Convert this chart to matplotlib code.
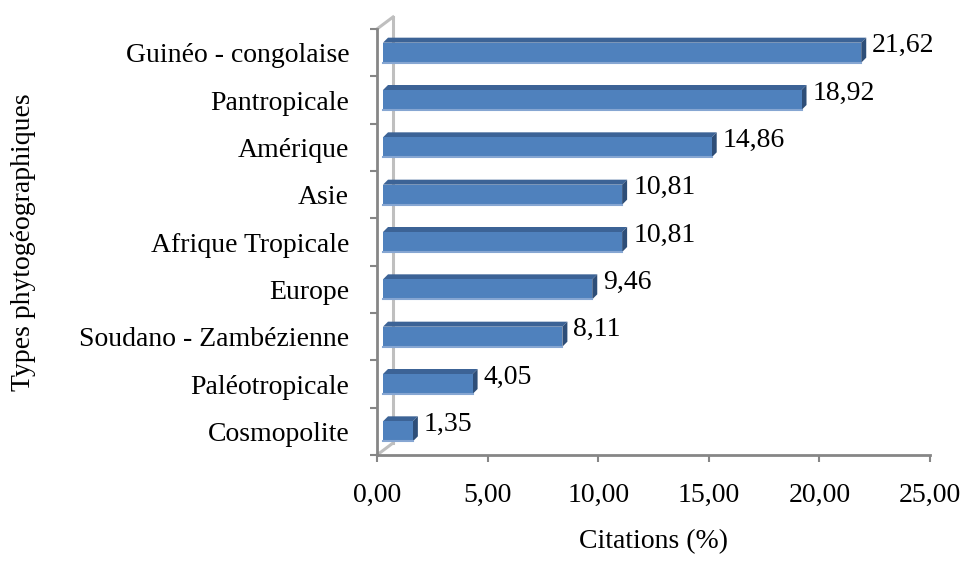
import matplotlib
matplotlib.use('Agg')
import matplotlib.pyplot as plt
from matplotlib.patches import Polygon, Rectangle

plt.rcParams['font.family'] = ['Liberation Serif', 'DejaVu Serif']

categories = ['Cosmopolite', 'Paléotropicale', 'Soudano - Zambézienne', 'Europe',
              'Afrique Tropicale', 'Asie', 'Amérique', 'Pantropicale',
              'Guinéo - congolaise']
values = [1.35, 4.05, 8.11, 9.46, 10.81, 10.81, 14.86, 18.92, 21.62]
value_labels = ['1,35', '4,05', '8,11', '9,46', '10,81', '10,81', '14,86', '18,92', '21,62']
xticks = [0, 5, 10, 15, 20, 25]
xtick_labels = ['0,00', '5,00', '10,00', '15,00', '20,00', '25,00']

FS = 20
W, H = 964, 568
fig = plt.figure(figsize=(W / 100, H / 100), dpi=100)
left, right, top, bottom = 377, 930, 29, 455
ax = fig.add_axes([left / W, 1 - bottom / H, (right - left) / W, (bottom - top) / H])
ax.set_xlim(0, 25)
ax.set_ylim(-0.5, 8.5)

# pixel -> data units
px_x = 25 / (right - left)
px_y = 9 / (bottom - top)

front = '#4F81BD'
top_c = '#3C6396'
side_c = '#2E4E78'
edge_c = '#86A6D2'

# back wall / floor edges (3D look)
depth_x, depth_y = 16 * px_x, 12 * px_y
wall = '#BFBFBF'
ax.plot([depth_x, depth_x], [-0.5 + depth_y, 8.5 + depth_y], color=wall, lw=2.2,
        clip_on=False, zorder=1)
ax.plot([0, depth_x], [8.5, 8.5 + depth_y], color=wall, lw=2.2, clip_on=False, zorder=1)
ax.plot([0, depth_x], [-0.5, -0.5 + depth_y], color=wall, lw=2.2, clip_on=False, zorder=1)

bh = 20 * px_y
sx = 6 * px_x
ox, oy = 5 * px_x, 5 * px_y
for i, v in enumerate(values):
    x0, x1 = sx, v + sx
    y0, y1 = i - bh / 2, i + bh / 2
    ax.add_patch(Polygon([(x0, y1), (x1, y1), (x1 + ox, y1 + oy), (x0 + ox, y1 + oy)],
                         closed=True, facecolor=top_c, edgecolor='none', zorder=3))
    ax.add_patch(Polygon([(x1, y0), (x1 + ox, y0 + oy), (x1 + ox, y1 + oy), (x1, y1)],
                         closed=True, facecolor=side_c, edgecolor='none', zorder=3))
    ax.add_patch(Rectangle((x0, y0), v, bh, facecolor=front, edgecolor='none', zorder=4))
    ax.plot([x0, x1], [y0, y0], color=edge_c, lw=1.5, zorder=5)
    ax.text(x1 + ox + 6 * px_x, i + 7 * px_y, value_labels[i], fontsize=FS,
            ha='left', va='center', zorder=6)

for s in ['top', 'right']:
    ax.spines[s].set_visible(False)
for s in ['left', 'bottom']:
    ax.spines[s].set_color('#868686')
    ax.spines[s].set_linewidth(2)

ax.set_xticks(xticks)
ax.set_xticklabels(xtick_labels, fontsize=FS)
ax.tick_params(axis='x', length=5, width=1.5, color='#868686', pad=15)

ax.set_yticks([i - 0.5 for i in range(10)])
ax.set_yticklabels([])
ax.tick_params(axis='y', which='major', length=5, width=1.5, color='#868686')
ax.set_yticks(range(len(categories)), minor=True)
ax.set_yticklabels(categories, minor=True, fontsize=FS)
ax.tick_params(axis='y', which='minor', length=0, pad=20)

ax.set_xlabel('Citations (%)', fontsize=FS, labelpad=15)
ax.set_ylabel('Types phytogéographiques', fontsize=FS)
ax.yaxis.set_label_coords((36 - left) / (right - left), (bottom - 242) / (bottom - top))

fig.savefig('out.png', dpi=100)
